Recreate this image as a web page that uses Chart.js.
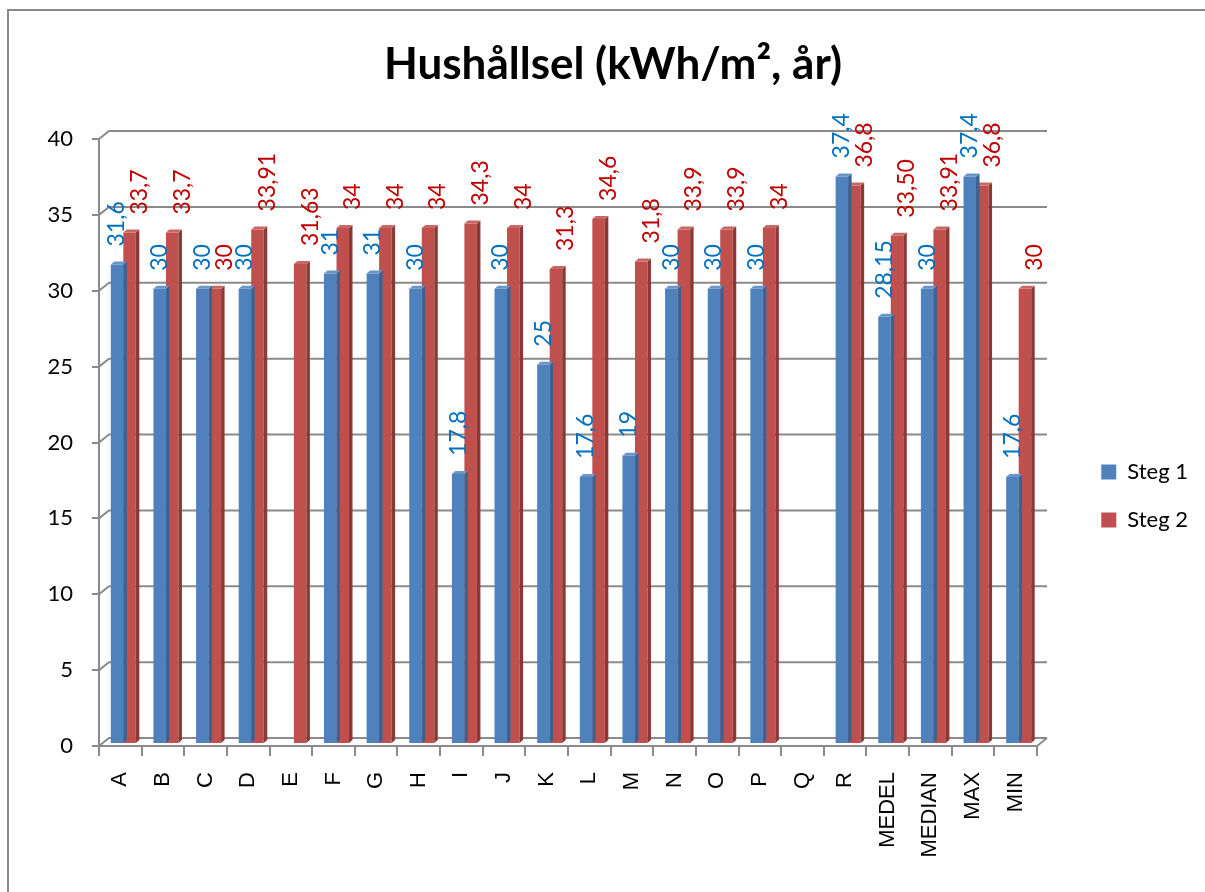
<!DOCTYPE html>
<html lang="sv">
<head>
<meta charset="utf-8">
<title>Hushållsel (kWh/m², år)</title>
<script src="https://cdn.jsdelivr.net/npm/chart.js@4.4.1/dist/chart.umd.min.js"></script>
<style>
  html, body { margin: 0; padding: 0; background: #ffffff; }
  #wrap { position: relative; width: 1205px; height: 892px; overflow: hidden; }
  #frame { position: absolute; left: 7px; top: 9px; width: 1300px; height: 1000px;
           border-left: 2px solid #898989; border-top: 2px solid #898989; box-sizing: border-box; }
  #c { position: absolute; left: 0; top: 0; }
</style>
</head>
<body>
<div id="wrap">
  <div id="frame"></div>
  <canvas id="c" width="1205" height="892"></canvas>
</div>
<script>
// Byggnader plus sammanställning
const categories = ['A','B','C','D','E','F','G','H','I','J','K','L','M','N','O','P','Q','R','MEDEL','MEDIAN','MAX','MIN'];

// Hushållsel per steg (kWh/m², år)
const steg1 = [31.6, 30, 30, 30, null, 31, 31, 30, 17.8, 30, 25, 17.6, 19, 30, 30, 30, null, 37.4, 28.15, 30, 37.4, 17.6];
const steg2 = [33.7, 33.7, 30, 33.91, 31.63, 34, 34, 34, 34.3, 34, 31.3, 34.6, 31.8, 33.9, 33.9, 34, null, 36.8, 33.5, 33.91, 36.8, 30];

const seriesNames = ['Steg 1', 'Steg 2'];

// Y-axel
const yMin = 0;
const yMax = 40;
const yStep = 5;

// Kategorier vars etiketter visas med fast antal decimaler
const labelDecimals = { MEDEL: 2 };

// Utseende
const GRID = '#8a8a8a';
const FRONT = ['#4F81BD', '#C0504D'];
const TOP = ['#6A95C9', '#C96764'];
const SIDE = ['#3A6391', '#8C3936'];
const LABEL = ['#0070C0', '#C00000'];

const WALL_DX = 10, WALL_DY = 8;     // bakväggens förskjutning
const BAR_DX = 3, BAR_DY = -2;       // staplarnas placering i djupled
const FACE_DX = 3.5, FACE_DY = 3;    // stapelns topp- och sidoyta
const LABEL_OFFSET = [0, 10];
const LABEL_GAP = 20;
const PLOT_RIGHT = 1037;
const PAD_LEFT = 28;
const PAD_RIGHT = 7;

function formatValue(v, cat) {
  const d = labelDecimals[cat];
  const s = d != null ? v.toFixed(d) : String(v);
  return s.replace('.', ',');
}

const depthPlugin = {
  id: 'depth3d',
  beforeDatasetsDraw(chart) {
    const { ctx, chartArea: a, scales: { y } } = chart;
    ctx.save();
    ctx.strokeStyle = GRID;
    ctx.lineWidth = 2;
    y.ticks.forEach(t => {
      const py = y.getPixelForValue(t.value);
      ctx.beginPath();
      ctx.moveTo(a.left, py);
      ctx.lineTo(a.left + WALL_DX, py - WALL_DY);
      ctx.lineTo(a.right + WALL_DX, py - WALL_DY);
      ctx.stroke();
    });
    ctx.beginPath();
    ctx.moveTo(a.right, a.bottom);
    ctx.lineTo(a.right + WALL_DX, a.bottom - WALL_DY);
    ctx.stroke();
    ctx.restore();
    ctx.save();
    ctx.translate(BAR_DX, BAR_DY);
  },
  afterDatasetDraw(chart, args) {
    const { ctx } = chart;
    const i = args.index;
    args.meta.data.forEach((bar, k) => {
      const v = chart.data.datasets[i].data[k];
      if (v == null) return;
      const { x, y, base, width } = bar.getProps(['x', 'y', 'base', 'width'], true);
      const l = x - width / 2, r = x + width / 2;
      // sidoyta
      ctx.fillStyle = SIDE[i];
      ctx.beginPath();
      ctx.moveTo(r, y);
      ctx.lineTo(r + FACE_DX, y - FACE_DY);
      ctx.lineTo(r + FACE_DX, base - FACE_DY);
      ctx.lineTo(r, base);
      ctx.closePath();
      ctx.fill();
      // toppyta
      ctx.fillStyle = TOP[i];
      ctx.beginPath();
      ctx.moveTo(l, y);
      ctx.lineTo(l + FACE_DX, y - FACE_DY);
      ctx.lineTo(r + FACE_DX, y - FACE_DY);
      ctx.lineTo(r, y);
      ctx.closePath();
      ctx.fill();
    });
  },
  afterDatasetsDraw(chart) {
    const { ctx, scales: { y } } = chart;
    ctx.restore();
    ctx.save();
    ctx.font = '23px Lato, "Open Sans", sans-serif';
    ctx.textAlign = 'left';
    ctx.textBaseline = 'middle';
    chart.data.datasets.forEach((ds, i) => {
      const meta = chart.getDatasetMeta(i);
      meta.data.forEach((bar, k) => {
        const v = ds.data[k];
        if (v == null) return;
        const cx = bar.x + BAR_DX + LABEL_OFFSET[i];
        const py = y.getPixelForValue(v) - LABEL_GAP;
        ctx.save();
        ctx.translate(cx, py);
        ctx.rotate(-Math.PI / 2);
        ctx.fillStyle = LABEL[i];
        ctx.fillText(formatValue(v, categories[k]), 0, 0);
        ctx.restore();
      });
    });
    ctx.restore();
  }
};

new Chart(document.getElementById('c'), {
  type: 'bar',
  data: {
    labels: categories,
    datasets: [
      { label: seriesNames[0], data: steg1, backgroundColor: FRONT[0], borderWidth: 0, clip: false },
      { label: seriesNames[1], data: steg2, backgroundColor: FRONT[1], borderWidth: 0, clip: false }
    ]
  },
  options: {
    responsive: false,
    animation: false,
    events: [],
    categoryPercentage: 0.587,
    barPercentage: 1.0,
    layout: { padding: { left: PAD_LEFT, right: PAD_RIGHT, top: 0, bottom: 0 } },
    plugins: {
      tooltip: { enabled: false },
      title: {
        display: true,
        text: 'Hushållsel (kWh/m², år)',
        color: '#000000',
        font: { family: 'Lato, "Open Sans", sans-serif', size: 44, weight: 'bold', lineHeight: 1.2 },
        padding: { top: 38, bottom: 48.2 }
      },
      legend: {
        display: true,
        position: 'right',
        align: 'center',
        title: { display: true, text: ' ', font: { size: 10, lineHeight: 1.2 }, padding: { top: 88, bottom: 0 } },
        labels: {
          color: '#000000',
          font: { family: 'Lato, "Open Sans", sans-serif', size: 22 },
          boxWidth: 15,
          boxHeight: 15,
          padding: 26
        }
      }
    },
    scales: {
      x: {
        type: 'category',
        offset: true,
        afterFit(s) { s.height = 146; },
        grid: { display: true, offset: true, drawOnChartArea: false, drawTicks: true, tickLength: 10, color: GRID, lineWidth: 2 },
        border: { display: true, color: GRID, width: 2 },
        ticks: {
          autoSkip: false,
          minRotation: 90,
          maxRotation: 90,
          padding: 16,
          color: '#000000',
          font: { family: '"Liberation Sans", Arial, sans-serif', size: 22 }
        }
      },
      y: {
        type: 'linear',
        position: 'left',
        min: yMin,
        max: yMax,
        afterFit(s) { s.width = 99 - PAD_LEFT; },
        grid: { display: true, drawOnChartArea: false, drawTicks: true, tickLength: 7, color: GRID, lineWidth: 2 },
        border: { display: true, color: GRID, width: 2 },
        ticks: {
          stepSize: yStep,
          padding: 19,
          color: '#000000',
          font: { family: 'Lato, "Open Sans", sans-serif', size: 22 }
        }
      },
      depthSpace: {
        type: 'linear',
        position: 'right',
        display: true,
        afterFit(s) {
          const lw = s.chart.legend ? s.chart.legend.width : 0;
          s.width = Math.max(0, s.chart.width - PAD_RIGHT - lw - PLOT_RIGHT);
        },
        grid: { display: false },
        border: { display: false },
        ticks: { display: false }
      }
    }
  },
  plugins: [depthPlugin]
});
</script>
</body>
</html>
